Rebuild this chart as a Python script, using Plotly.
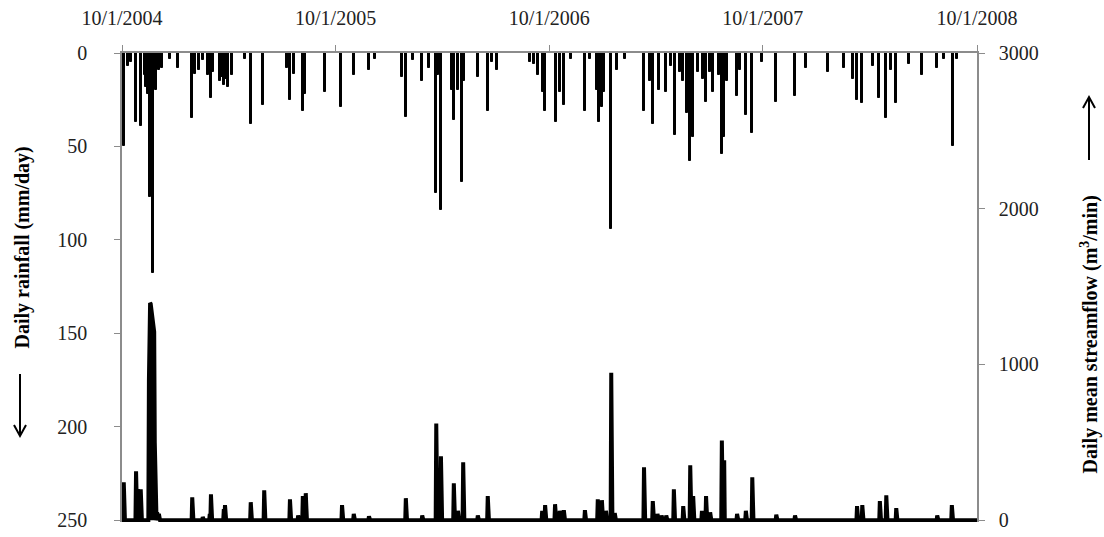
import pandas as pd
import plotly.graph_objects as go

# ---- data ----
rain_dates = [
    "2004-10-04", "2004-10-11", "2004-10-16", "2004-10-25", "2004-11-02", "2004-11-10",
    "2004-11-12", "2004-11-13", "2004-11-15", "2004-11-18", "2004-11-20", "2004-11-23",
    "2004-11-25", "2004-11-28", "2004-12-03", "2004-12-08", "2004-12-22", "2005-01-05",
    "2005-01-29", "2005-02-03", "2005-02-10", "2005-02-16", "2005-02-25", "2005-03-02",
    "2005-03-06", "2005-03-17", "2005-03-20", "2005-03-24", "2005-03-28", "2005-03-31",
    "2005-04-07", "2005-04-29", "2005-05-09", "2005-05-30", "2005-07-10", "2005-07-15",
    "2005-07-22", "2005-08-06", "2005-08-10", "2005-09-13", "2005-10-10", "2005-11-01",
    "2005-11-27", "2005-12-07", "2006-01-22", "2006-01-29", "2006-02-10", "2006-02-26",
    "2006-03-10", "2006-03-22", "2006-03-25", "2006-03-30", "2006-04-18", "2006-04-21",
    "2006-04-28", "2006-05-05", "2006-05-08", "2006-06-01", "2006-06-18", "2006-06-25",
    "2006-07-04", "2006-08-29", "2006-09-05", "2006-09-12", "2006-09-20", "2006-09-24",
    "2006-10-13", "2006-10-19", "2006-10-26", "2006-11-07", "2006-12-01", "2006-12-10",
    "2006-12-22", "2006-12-25", "2006-12-30", "2007-01-03", "2007-01-15", "2007-01-25",
    "2007-02-08", "2007-03-12", "2007-03-22", "2007-03-27", "2007-04-07", "2007-04-19",
    "2007-04-27", "2007-05-04", "2007-05-13", "2007-05-18", "2007-05-25", "2007-05-30",
    "2007-06-04", "2007-06-12", "2007-06-21", "2007-06-26", "2007-07-03", "2007-07-08",
    "2007-07-18", "2007-07-23", "2007-07-27", "2007-08-01", "2007-08-18", "2007-08-23",
    "2007-09-02", "2007-09-13", "2007-09-30", "2007-10-24", "2007-11-25", "2007-12-14",
    "2008-01-20", "2008-02-17", "2008-03-03", "2008-03-10", "2008-03-19", "2008-04-06",
    "2008-04-17", "2008-04-29", "2008-05-07", "2008-05-16", "2008-06-07", "2008-06-29",
    "2008-07-25", "2008-08-06", "2008-08-21", "2008-08-28",
]
rain_mm = [
    50, 7, 5, 37, 39, 12,
    18, 15, 22, 77, 25, 118,
    14, 20, 9, 8, 3, 8,
    35, 11, 9, 4, 12, 24,
    10, 15, 13, 17, 14, 18,
    12, 3, 38, 28, 8, 25,
    11, 31, 22, 21, 29, 12,
    9, 3, 13, 34, 4, 15,
    8, 75, 12, 84, 20, 36,
    20, 69, 15, 13, 31, 5,
    9, 5, 6, 12, 21, 31,
    37, 21, 28, 3, 31, 3,
    20, 37, 29, 21, 94, 9,
    3, 31, 15, 38, 20, 21,
    7, 44, 10, 15, 32, 58,
    45, 10, 14, 26, 10, 21,
    12, 54, 45, 15, 23, 9,
    33, 43, 5, 26, 23, 8,
    10, 8, 14, 25, 27, 7,
    24, 35, 9, 27, 6, 12,
    8, 3, 50, 3,
]

flow_dates = [
    "2004-10-04", "2004-10-25", "2004-10-28", "2004-11-02", "2004-11-16", "2004-11-17",
    "2004-11-18", "2004-11-19", "2004-11-20", "2004-11-21", "2004-11-22", "2004-11-23",
    "2004-11-24", "2004-11-25", "2004-11-26", "2004-11-27", "2004-11-30", "2004-12-03",
    "2005-01-29", "2005-02-16", "2005-02-28", "2005-03-02", "2005-03-24", "2005-03-26",
    "2005-05-09", "2005-06-01", "2005-07-15", "2005-07-29", "2005-08-06", "2005-08-11",
    "2005-10-12", "2005-11-01", "2005-11-27", "2006-01-29", "2006-02-26", "2006-03-22",
    "2006-03-30", "2006-04-21", "2006-04-28", "2006-05-07", "2006-06-01", "2006-06-18",
    "2006-09-19", "2006-09-24", "2006-10-11", "2006-10-19", "2006-10-26", "2006-12-01",
    "2006-12-23", "2006-12-30", "2007-01-06", "2007-01-15", "2007-01-21", "2007-03-12",
    "2007-03-27", "2007-04-04", "2007-04-11", "2007-04-19", "2007-05-02", "2007-05-18",
    "2007-05-30", "2007-06-04", "2007-06-19", "2007-06-26", "2007-07-03", "2007-07-23",
    "2007-07-27", "2007-08-18", "2007-09-02", "2007-09-13", "2007-10-24", "2007-11-25",
    "2008-03-10", "2008-03-19", "2008-04-18", "2008-04-29", "2008-05-16", "2008-07-25",
    "2008-08-19",
]
flow_m3min = [
    243, 314, 200, 198, 900, 1320,
    1395, 1390, 1360, 1300, 1250, 1230,
    1215, 1209, 500, 120, 50, 40,
    147, 20, 40, 166, 70, 96,
    115, 192, 134, 30, 154, 173,
    96, 40, 25, 141, 30, 620,
    410, 237, 60, 371, 30, 154,
    60, 96, 102, 60, 64, 64,
    134, 128, 60, 947, 45, 339,
    122, 40, 30, 30, 198, 90,
    352, 154, 60, 154, 50, 512,
    384, 40, 60, 275, 35, 30,
    90, 96, 122, 160, 77, 30,
    96,
]

tick_dates = ["2004-10-01", "2005-10-01", "2006-10-01", "2007-10-01", "2008-10-01"]
tick_labels = ["10/1/2004", "10/1/2005", "10/1/2006", "10/1/2007", "10/1/2008"]
rain_ticks = [0, 50, 100, 150, 200, 250]
flow_ticks = [0, 1000, 2000, 3000]

# daily streamflow series (zero on days with no recorded event)
days = pd.date_range("2004-10-01", "2008-10-01", freq="D")
flow = pd.Series(0.0, index=days)
flow[pd.to_datetime(flow_dates)] = flow_m3min

FONT = "Times New Roman, Liberation Serif, serif"
AXIS_GRAY = "#8c8c8c"

fig = go.Figure()
fig.add_trace(go.Bar(
    x=pd.to_datetime(rain_dates), y=rain_mm, base=0,
    width=4 * 86400000,
    marker=dict(color="black", line=dict(color="black", width=1)),
    yaxis="y", showlegend=False, hoverinfo="skip",
))
fig.add_trace(go.Scatter(
    x=flow.index, y=flow.values, mode="lines",
    line=dict(color="black", width=4),
    fill="tozeroy", fillcolor="black",
    yaxis="y2", showlegend=False, hoverinfo="skip",
))

fig.update_layout(
    template="none",
    width=1104, height=537,
    margin=dict(l=122, r=127, t=53, b=15, autoexpand=False),
    paper_bgcolor="white", plot_bgcolor="white",
    font=dict(family=FONT, size=20, color="#222"),
    bargap=0,
    xaxis=dict(
        side="top", range=["2004-10-01", "2008-10-01"],
        tickvals=tick_dates, ticktext=tick_labels,
        showline=True, linecolor=AXIS_GRAY, linewidth=1.5,
        ticks="outside", ticklen=6, tickcolor=AXIS_GRAY,
        ticklabelstandoff=12, automargin=False,
        showgrid=False, zeroline=False,
        tickfont=dict(family=FONT, size=20, color="#222"),
    ),
    yaxis=dict(
        range=[251, 0], tickvals=rain_ticks,
        showline=True, linecolor=AXIS_GRAY, linewidth=1.5,
        ticks="outside", ticklen=6, tickcolor=AXIS_GRAY,
        ticklabelstandoff=23, automargin=False,
        showgrid=False, zeroline=False,
        tickfont=dict(family=FONT, size=20, color="#222"),
    ),
    yaxis2=dict(
        range=[-12, 3000], tickvals=flow_ticks,
        overlaying="y", side="right", anchor="x",
        showline=True, linecolor=AXIS_GRAY, linewidth=1.5,
        ticks="outside", ticklen=6, tickcolor=AXIS_GRAY,
        ticklabelstandoff=10, automargin=False,
        showgrid=False, zeroline=False,
        tickfont=dict(family=FONT, size=20, color="#222"),
    ),
)

# axis titles
fig.add_annotation(
    text="<b>Daily rainfall (mm/day)</b>", textangle=-90,
    xref="paper", yref="paper", x=-0.116, y=0.585,
    xanchor="center", yanchor="middle",
    showarrow=False, font=dict(family=FONT, size=20, color="black"),
)
fig.add_annotation(
    text="<b>Daily mean streamflow (m<sup>3</sup>/min)</b>", textangle=-90,
    xref="paper", yref="paper", x=1.131, y=0.40,
    xanchor="center", yanchor="middle",
    showarrow=False, font=dict(family=FONT, size=20, color="black"),
)

# direction arrows
def px_x(p):
    return (p - 122) / 855.0

def px_y(p):
    return (522 - p) / 469.0

lx = 20
fig.add_shape(type="path", xref="paper", yref="paper",
              path=(f"M {px_x(lx)},{px_y(374)} L {px_x(lx)},{px_y(436)} "
                    f"M {px_x(lx-6)},{px_y(425)} L {px_x(lx)},{px_y(436)} L {px_x(lx+6)},{px_y(425)}"),
              line=dict(color="black", width=2))
rx = 1089
fig.add_shape(type="path", xref="paper", yref="paper",
              path=(f"M {px_x(rx)},{px_y(160)} L {px_x(rx)},{px_y(97)} "
                    f"M {px_x(rx-6)},{px_y(108)} L {px_x(rx)},{px_y(97)} L {px_x(rx+6)},{px_y(108)}"),
              line=dict(color="black", width=2))

fig.write_html("out.html", config={"displayModeBar": False},
               post_script="document.body.style.margin='0';")
